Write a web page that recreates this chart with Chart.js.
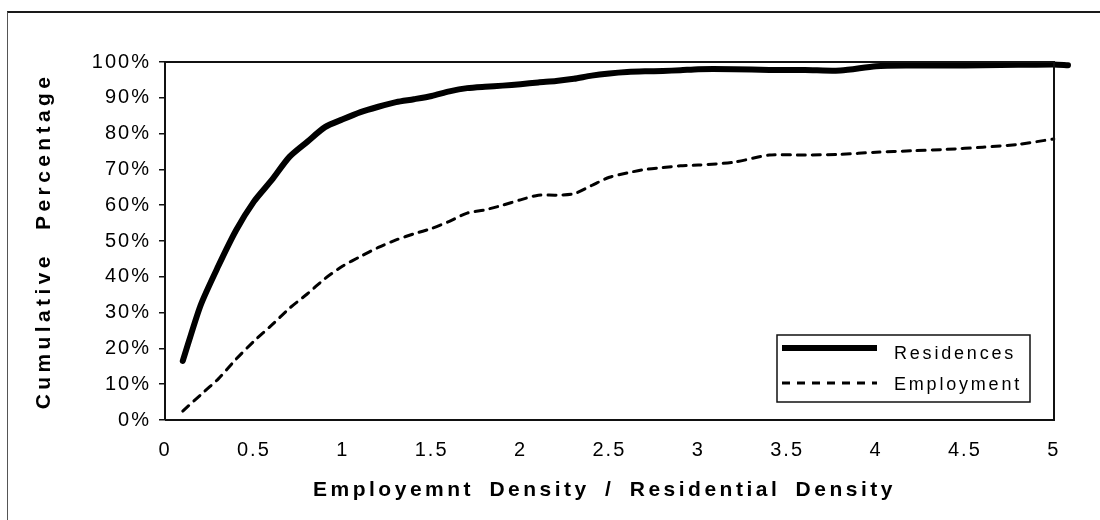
<!DOCTYPE html>
<html>
<head>
<meta charset="utf-8">
<script src="https://cdn.jsdelivr.net/npm/chart.js@4.4.1/dist/chart.umd.min.js"></script>
<style>
html, body { margin: 0; padding: 0; background: #fff; }
#wrap { position: relative; width: 1100px; height: 520px; overflow: hidden; background: #fff; }
#frame { position: absolute; left: 7px; top: 11px; width: 1200px; height: 600px;
         border-top: 2px solid #1a1a1a; border-left: 1px solid #555; }
canvas { position: absolute; left: 0; top: 0; }
</style>
</head>
<body>
<div id="wrap">
  <div id="frame"></div>
  <canvas id="c" width="1100" height="520"></canvas>
</div>
<script>
// ---- data ----
const densityRatio = [0.1, 0.2, 0.3, 0.4, 0.5, 0.6, 0.7, 0.8, 0.9, 1.0,
  1.1, 1.2, 1.3, 1.4, 1.5, 1.6, 1.7, 1.8, 1.9, 2.0,
  2.1, 2.2, 2.3, 2.4, 2.5, 2.6, 2.7, 2.8, 2.9, 3.0,
  3.2, 3.4, 3.6, 3.8, 4.0, 4.2, 4.4, 4.6, 4.8, 5.0, 5.08];

const residencesPct = [16.5, 32, 43, 53, 61, 67, 73.5, 77.7, 81.8, 84,
  86, 87.5, 88.8, 89.6, 90.5, 91.8, 92.7, 93.1, 93.4, 93.8,
  94.3, 94.7, 95.3, 96.2, 96.8, 97.2, 97.4, 97.5, 97.7, 98,
  98, 97.8, 97.8, 97.6, 98.8, 99, 99, 99.1, 99.2, 99.3, 99.1];

const employmentPct = [2.5, 7, 11.5, 17, 22, 26.5, 31.2, 35.2, 39.5, 43,
  45.7, 48.2, 50.3, 52, 53.5, 55.5, 57.8, 58.7, 60, 61.5,
  62.8, 62.8, 63.2, 65.5, 67.8, 69, 70, 70.5, 71, 71.2,
  72, 74, 74, 74.2, 74.8, 75.2, 75.6, 76.2, 77, 78.5, null];

const seriesNames = ['Residences', 'Employment'];
const xTickValues = [0, 0.5, 1, 1.5, 2, 2.5, 3, 3.5, 4, 4.5, 5];
const xTickLabels = ['0', '0.5', '1', '1.5', '2', '2.5', '3', '3.5', '4', '4.5', '5'];
const yTickValues = [0, 10, 20, 30, 40, 50, 60, 70, 80, 90, 100];
const yTickLabels = ['0%', '10%', '20%', '30%', '40%', '50%', '60%', '70%', '80%', '90%', '100%'];
const xTitle = 'Employemnt Density / Residential Density';
const yTitle = 'Cumulative Percentage';
const xAxisEnd = 5;       // last labelled value, where the plot frame closes
const xDataEnd = 5.08;    // the Residences line runs a little past the frame

// ---- chart ----
const FONT = "'Liberation Sans', Arial, Helvetica, sans-serif";
Chart.defaults.font.family = FONT;
Chart.defaults.color = '#000';

function toPoints(values) {
  return densityRatio.map((x, i) => ({ x: x, y: values[i] }));
}

const spacingPlugin = {
  id: 'spacing',
  beforeDraw(chart) {
    ['x', 'y'].forEach(id => {
      const s = chart.scales[id];
      if (!s || s._spacingPatched) return;
      const origTitle = s.drawTitle;
      const origLabels = s.drawLabels;
      s.drawTitle = function () {
        const c = this.ctx;
        c.save();
        if (this.id === 'x') { c.letterSpacing = '3.5px'; c.wordSpacing = '6px'; c.translate(-12, 0); }
        else { c.letterSpacing = '4.4px'; c.wordSpacing = '12px'; }
        origTitle.apply(this, arguments);
        c.restore();
      };
      s.drawLabels = function () {
        const c = this.ctx;
        c.save();
        c.letterSpacing = '2px';
        origLabels.apply(this, arguments);
        c.restore();
      };
      s._spacingPatched = true;
    });
  }
};

const frameAndLegend = {
  id: 'frameAndLegend',
  afterDraw(chart) {
    const { ctx, chartArea: a } = chart;
    const xr = Math.round(chart.scales.x.getPixelForValue(xAxisEnd));
    ctx.save();
    ctx.strokeStyle = '#111';
    ctx.lineWidth = 2;
    ctx.setLineDash([]);
    ctx.beginPath();
    ctx.moveTo(a.left, a.top);
    ctx.lineTo(xr, a.top);
    ctx.lineTo(xr, a.bottom);
    ctx.lineTo(a.left, a.bottom);
    ctx.stroke();
    ctx.restore();

    const w = 253, h = 67;
    const left = xr - 24 - w;
    const top = a.bottom - 18 - h;
    ctx.save();
    ctx.fillStyle = '#fff';
    ctx.fillRect(left, top, w, h);
    ctx.strokeStyle = '#111';
    ctx.lineWidth = 1.5;
    ctx.strokeRect(left, top, w, h);
    const rows = [top + 13, top + 48];
    chart.data.datasets.forEach((ds, i) => {
      const y = rows[i];
      ctx.save();
      ctx.strokeStyle = ds.borderColor;
      ctx.lineWidth = ds.borderWidth;
      ctx.setLineDash(ds.borderDash || []);
      ctx.beginPath();
      ctx.moveTo(left + 5, y);
      ctx.lineTo(left + 100, y);
      ctx.stroke();
      ctx.restore();
      ctx.fillStyle = '#000';
      ctx.font = '18px ' + FONT;
      ctx.letterSpacing = '2.8px';
      ctx.textAlign = 'left';
      ctx.textBaseline = 'middle';
      ctx.fillText(ds.label, left + 117, y + (i === 0 ? 6 : 2));
    });
    ctx.restore();
  }
};

new Chart(document.getElementById('c'), {
  type: 'line',
  data: {
    datasets: [
      {
        label: seriesNames[0],
        data: toPoints(residencesPct),
        borderColor: '#000',
        borderWidth: 6,
        borderCapStyle: 'round',
        borderJoinStyle: 'round',
        pointRadius: 0,
        tension: 0.25,
        fill: false,
        clip: 6
      },
      {
        label: seriesNames[1],
        data: toPoints(employmentPct),
        borderColor: '#000',
        borderWidth: 3,
        borderDash: [8, 7],
        borderCapStyle: 'round',
        pointRadius: 0,
        tension: 0.25,
        fill: false,
        clip: 6
      }
    ]
  },
  options: {
    responsive: false,
    animation: false,
    devicePixelRatio: 1,
    layout: { autoPadding: false, padding: { top: 62, right: 32, left: 0, bottom: 0 } },
    plugins: { legend: { display: false }, tooltip: { enabled: false } },
    scales: {
      x: {
        type: 'linear',
        min: 0, max: xDataEnd,
        afterFit: s => { s.height = 100; },
        afterBuildTicks: s => { s.ticks = xTickValues.map(v => ({ value: v })); },
        grid: { display: false, drawTicks: false },
        border: { display: false },
        ticks: {
          padding: 18,
          maxRotation: 0,
          autoSkip: false,
          font: { size: 20 },
          color: '#000',
          callback: (v) => xTickLabels[xTickValues.indexOf(v)]
        },
        title: {
          display: true,
          text: xTitle,
          font: { size: 21, weight: 'bold' },
          color: '#000',
          padding: { top: 0, bottom: 17 }
        }
      },
      y: {
        type: 'linear',
        min: 0, max: 100,
        afterFit: s => { s.width = 165; },
        afterBuildTicks: s => { s.ticks = yTickValues.map(v => ({ value: v })); },
        grid: { display: true, drawOnChartArea: false, drawTicks: true, tickLength: 6, color: '#111', lineWidth: 1.5 },
        border: { display: true, color: '#111', width: 2 },
        ticks: {
          padding: 8,
          autoSkip: false,
          font: { size: 20 },
          color: '#000',
          callback: (v) => yTickLabels[yTickValues.indexOf(v)]
        },
        title: {
          display: true,
          text: yTitle,
          font: { size: 21, weight: 'bold' },
          color: '#000',
          padding: { top: 32, bottom: 0 }
        }
      }
    }
  },
  plugins: [spacingPlugin, frameAndLegend]
});
</script>
</body>
</html>
